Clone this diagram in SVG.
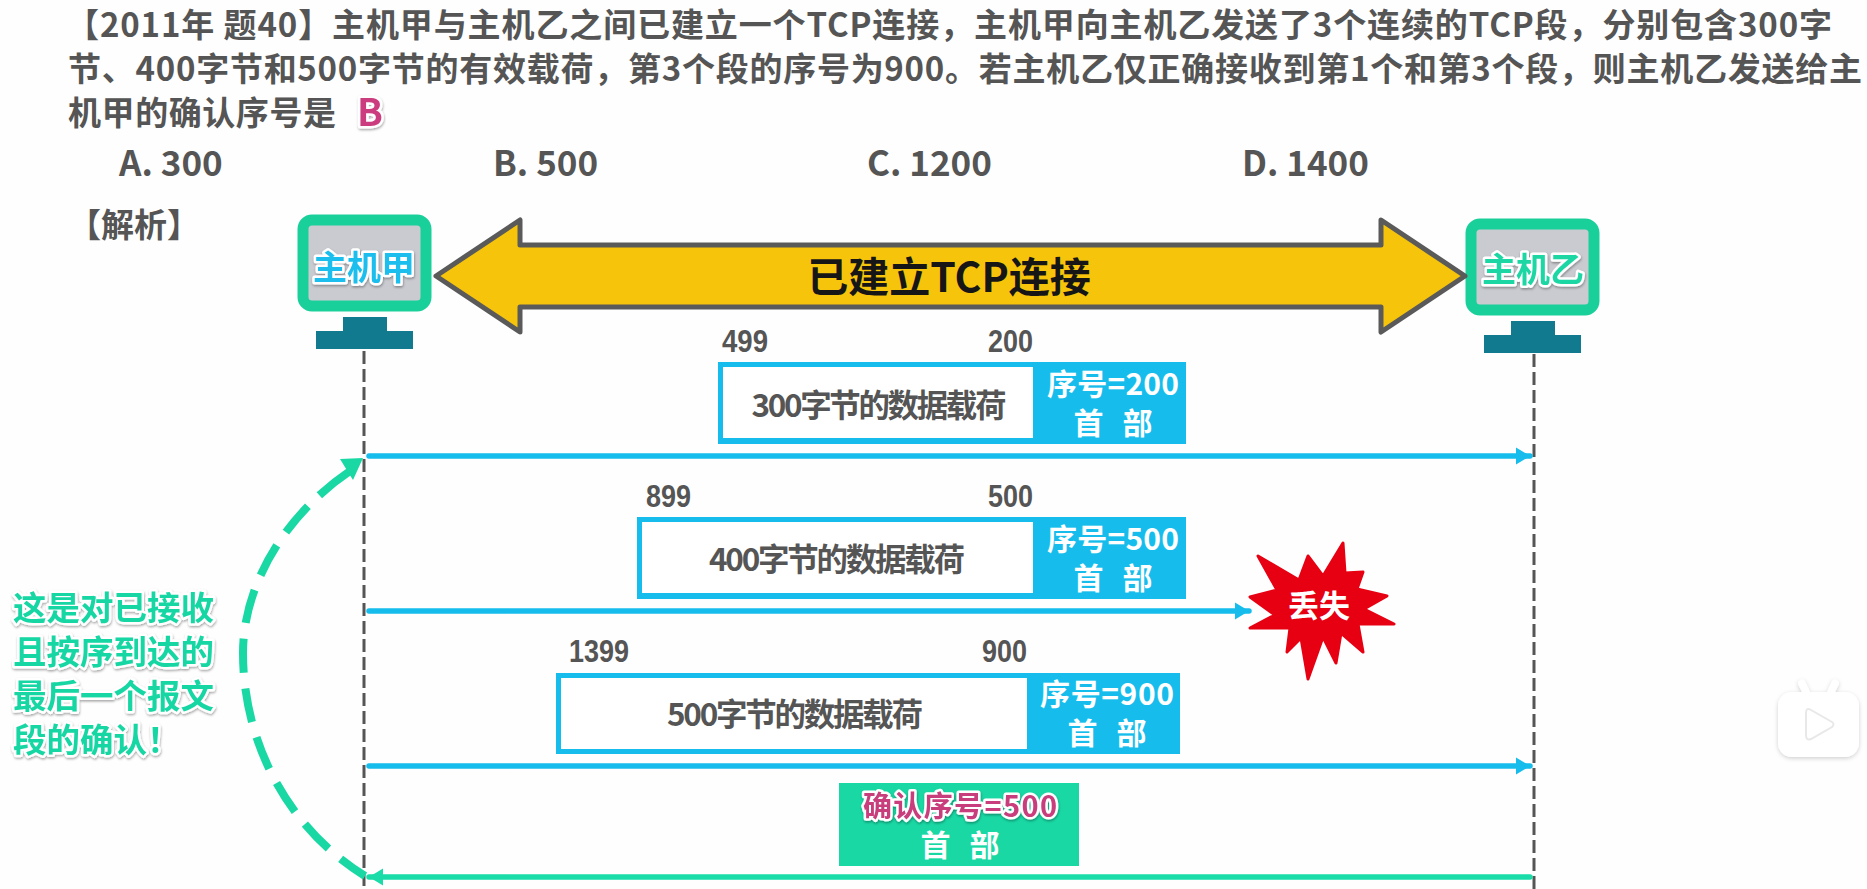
<svg xmlns="http://www.w3.org/2000/svg" width="1867" height="889" viewBox="0 0 1867 889">
<style>
text{font-family:"Noto Sans CJK SC","Noto Sans",sans-serif;font-weight:700;fill:#555}
.t{font-size:33px}
.o{font-size:35px}
.n{font-family:"Liberation Sans",sans-serif;font-size:31px}
.p{font-size:31.5px;text-anchor:middle}
.h{font-size:30px;fill:#fff;text-anchor:middle}
.s{word-spacing:12px}
.halo{stroke:#fff;stroke-width:5px;paint-order:stroke;stroke-linejoin:round;filter:url(#sh)}
.mon{fill:#c9cbd0;stroke:#1ad09a;stroke-width:11}
.st{fill:#117a8e}
.life{stroke:#555;stroke-width:3;stroke-dasharray:13 5;fill:none}
.blue{stroke:#16bdec;stroke-width:5.5;fill:none}
.green{stroke:#19dca8;stroke-width:5.5;fill:none}
</style>
<defs>
<filter id="sh" x="-10%" y="-20%" width="120%" height="140%"><feDropShadow dx="0.5" dy="1.5" stdDeviation="1.2" flood-color="#000" flood-opacity="0.35"/></filter>
<filter id="sh2" x="-20%" y="-20%" width="140%" height="140%"><feDropShadow dx="0" dy="1.5" stdDeviation="2" flood-color="#000" flood-opacity="0.18"/></filter>
<marker id="ab" markerUnits="userSpaceOnUse" markerWidth="15" markerHeight="18" refX="14" refY="9" orient="auto"><path d="M0 0.5L14 9L0 17.5Z" fill="#16bdec"/></marker>
<marker id="ag" markerUnits="userSpaceOnUse" markerWidth="15" markerHeight="18" refX="14" refY="9" orient="auto"><path d="M0 0.5L14 9L0 17.5Z" fill="#19dca8"/></marker>
</defs>
<rect width="1867" height="889" fill="#fefefe"/>

<g id="question">
<text class="t" x="66" y="37" textLength="1766">【2011年 题40】主机甲与主机乙之间已建立一个TCP连接，主机甲向主机乙发送了3个连续的TCP段，分别包含300字</text>
<text class="t" x="68" y="81" textLength="1794">节、400字节和500字节的有效载荷，第3个段的序号为900。若主机乙仅正确接收到第1个和第3个段，则主机乙发送给主</text>
<text class="t" x="68" y="125" textLength="268">机甲的确认序号是</text>
<text x="357" y="126" font-size="38" style="fill:#cc3d80" class="halo">B</text>
<text class="o" x="119" y="176">A. 300</text>
<text class="o" x="493" y="176">B. 500</text>
<text class="o" x="867" y="176">C. 1200</text>
<text class="o" x="1242" y="176">D. 1400</text>
<text class="t" x="68" y="237" font-size="34">【解析】</text>
</g>

<g id="lifelines">
<path class="life" d="M364 351V889"/>
<path class="life" d="M1534 354V889"/>
</g>

<g id="host-a">
<rect class="mon" x="303" y="220" width="123" height="86" rx="9"/>
<path class="st" d="M343 317h44v14h26v18h-97v-18h27z"/>
<text x="364" y="280" font-size="34" text-anchor="middle" style="fill:#1abeee" class="halo">主机甲</text>
</g>
<g id="host-b">
<rect class="mon" x="1471" y="224" width="123" height="86" rx="9"/>
<path class="st" d="M1511 321h44v14h26v18h-97v-18h27z"/>
<text x="1533" y="282" font-size="34" text-anchor="middle" style="fill:#1ad6a4" class="halo">主机乙</text>
</g>

<g id="tcp-connection">
<path d="M436 276L520 220V245H1381V220L1465 276L1381 332V307H520V332Z" fill="#f6c40b" stroke="#5a5a5a" stroke-width="5" stroke-linejoin="round"/>
<text x="949" y="292" font-size="41" text-anchor="middle" style="fill:#161616">已建立TCP连接</text>
</g>

<g id="segment-1">
<rect x="718" y="362" width="468" height="82" fill="#16bdec"/>
<rect x="723" y="367" width="310" height="71" fill="#fff"/>
<text class="n" x="722" y="352" textLength="46" lengthAdjust="spacingAndGlyphs">499</text>
<text class="n" x="988" y="352" textLength="45" lengthAdjust="spacingAndGlyphs">200</text>
<text class="p" x="879" y="417" textLength="255">300字节的数据载荷</text>
<text class="h" x="1113" y="395" textLength="132">序号=200</text>
<text class="h s" x="1113" y="434">首 部</text>
</g>
<g id="segment-2">
<rect x="637" y="517" width="549" height="82" fill="#16bdec"/>
<rect x="642" y="522" width="391" height="71" fill="#fff"/>
<text class="n" x="646" y="507" textLength="45" lengthAdjust="spacingAndGlyphs">899</text>
<text class="n" x="988" y="507" textLength="45" lengthAdjust="spacingAndGlyphs">500</text>
<text class="p" x="837" y="571" textLength="256">400字节的数据载荷</text>
<text class="h" x="1113" y="550" textLength="132">序号=500</text>
<text class="h s" x="1113" y="589">首 部</text>
</g>
<g id="segment-3">
<rect x="556" y="673" width="624" height="81" fill="#16bdec"/>
<rect x="561" y="678" width="466" height="71" fill="#fff"/>
<text class="n" x="569" y="662" textLength="60" lengthAdjust="spacingAndGlyphs">1399</text>
<text class="n" x="982" y="662" textLength="45" lengthAdjust="spacingAndGlyphs">900</text>
<text class="p" x="795" y="726" textLength="256">500字节的数据载荷</text>
<text class="h" x="1107" y="705" textLength="134">序号=900</text>
<text class="h s" x="1107" y="744">首 部</text>
</g>
<g id="ack-segment">
<rect x="839" y="783" width="240" height="83" fill="#19d8a4"/>
<text x="960" y="817" font-size="29" text-anchor="middle" textLength="194" style="fill:#c83c7c" class="halo">确认序号=500</text>
<text class="h s" x="960" y="856">首 部</text>
</g>

<g id="lost">
<path d="M1343 543L1345 573L1363 572L1357 589L1387 596L1364 609L1394 624L1358 624L1363 652L1341 633L1336 663L1323 637L1308 679L1301 638L1287 652L1290 628L1250 628L1275 615L1250 597L1277 590L1258 556L1299 580L1308 556L1323 576Z" fill="#e60012" stroke="#e60012" stroke-width="3" stroke-linejoin="round"/>
<text x="1319" y="617" font-size="31" text-anchor="middle" style="fill:#fff">丢失</text>
</g>

<g id="note" font-size="33.5" class="halo">
<text x="13" y="620" style="fill:#19d6a3">这是对已接收</text>
<text x="13" y="664" style="fill:#19d6a3">且按序到达的</text>
<text x="13" y="708" style="fill:#19d6a3">最后一个报文</text>
<text x="13" y="752" style="fill:#19d6a3">段的确认！</text>
</g>

<g id="connectors">
<path class="blue" d="M369 456H1530" marker-end="url(#ab)" stroke-linecap="round"/>
<path class="blue" d="M369 611H1249" marker-end="url(#ab)" stroke-linecap="round"/>
<path class="blue" d="M369 766H1530" marker-end="url(#ab)" stroke-linecap="round"/>
<path class="green" d="M1530 877H369" marker-end="url(#ag)" stroke-linecap="round"/>
<path d="M350 471C285 515 243 585 243 653C243 745 290 830 365 876" fill="none" stroke="#19d8a4" stroke-width="8" stroke-dasharray="39 16 34 16 34 16 34 16 34 16 34 16 34 16 34 16 34 16 34 16"/>
<path d="M363 458L340 459L353 480Z" fill="#19d8a4"/>
</g>

<g id="watermark" filter="url(#sh2)">
<path d="M1802 692L1798 684A4 4 0 0 1 1805 681L1810 692H1827L1832 681A4 4 0 0 1 1839 684L1835 692H1845A14 14 0 0 1 1859 706V743A14 14 0 0 1 1845 757H1792A14 14 0 0 1 1778 743V706A14 14 0 0 1 1792 692Z" fill="#fff"/>
<path d="M1806 713Q1806 707 1811 710L1832 722Q1835 724 1832 727L1811 739Q1806 741 1806 735Z" fill="#fff" stroke="#e8e8e8" stroke-width="2"/>
</g>
</svg>
